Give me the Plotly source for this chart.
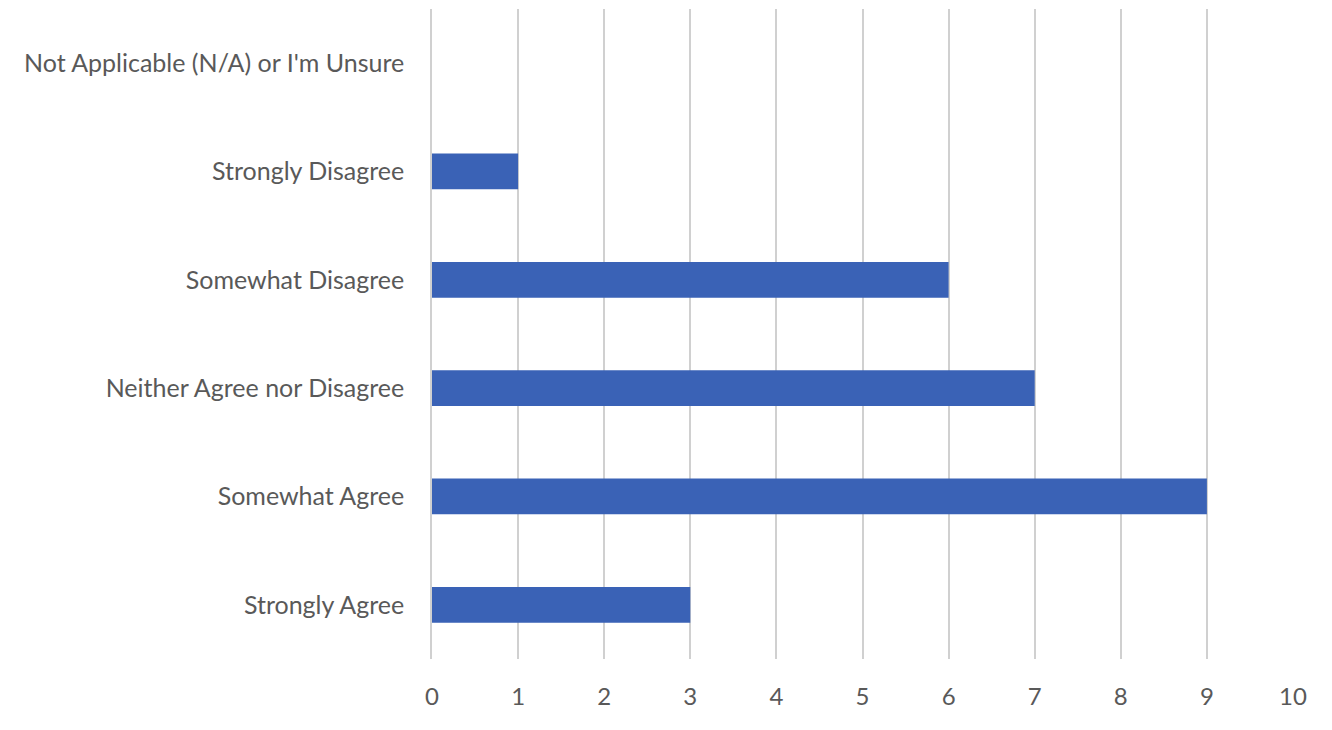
import plotly.graph_objects as go

categories = ["Strongly Agree", "Somewhat Agree", "Neither Agree nor Disagree",
              "Somewhat Disagree", "Strongly Disagree", "Not Applicable (N/A) or I'm Unsure"]
values = [3, 9, 7, 6, 1, 0]
x_ticks = list(range(0, 11))

fig = go.Figure(go.Bar(
    x=values, y=categories, orientation="h",
    marker=dict(color="#3A62B6", line=dict(width=0)),
    width=0.33,
))

fig.update_layout(
    width=1332, height=730,
    margin=dict(l=424, r=47, t=1, b=79),
    paper_bgcolor="white", plot_bgcolor="white",
    font=dict(family="Lato, 'Open Sans', sans-serif", size=25, color="#595959"),
    showlegend=False,
    xaxis=dict(range=[0, 10], tickvals=x_ticks, showgrid=True, gridcolor="#D0D0D0", gridwidth=1.5,
               zeroline=False, showline=False, ticks="outside", ticklen=16, tickcolor="rgba(0,0,0,0)",
               tickfont=dict(size=24, color="#595959"), fixedrange=True),
    yaxis=dict(categoryorder="array", categoryarray=categories, range=[-0.5, 5.5],
               showgrid=False, zeroline=False, showline=True, linecolor="#D0D0D0", linewidth=1.5,
               ticks="outside", ticklen=21, tickcolor="rgba(0,0,0,0)",
               tickfont=dict(size=25, color="#595959")),
)

fig.write_html("out.html")
